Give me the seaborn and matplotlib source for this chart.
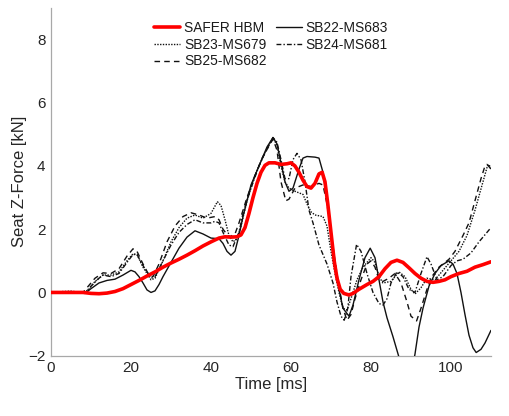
import numpy as np
import pandas as pd
import matplotlib
matplotlib.use("Agg")
import matplotlib.pyplot as plt
import seaborn as sns

# ---- data ----
hbm_t = [0, 8, 10, 12, 14, 16, 18, 20, 22, 24, 26, 28, 30, 32, 34, 36, 38, 40, 42, 43.5, 45, 46.5, 47.5,
         48.5, 49.5, 50.5, 51.5, 52.5, 53.5, 54.5, 56, 57.5, 59, 60, 61, 62, 63, 64, 65, 66, 67, 67.8,
         68.5, 69.2, 70, 70.8, 71.5, 72.3, 73.2, 74.5, 75.5, 77, 79, 80.5, 82, 83.5, 85, 86.5, 88, 89.5,
         91, 92.5, 94, 95.5, 97, 98.5, 100, 102, 104, 106, 108, 110]
hbm_f = [0, 0, -0.03, -0.04, -0.02, 0.03, 0.12, 0.25, 0.38, 0.52, 0.65, 0.8, 0.93, 1.05, 1.18, 1.32, 1.47,
         1.6, 1.72, 1.76, 1.75, 1.76, 1.82, 2.05, 2.5, 3.0, 3.45, 3.8, 4.02, 4.1, 4.1, 4.05, 4.07, 4.1, 4.0,
         3.8, 3.55, 3.35, 3.3, 3.45, 3.75, 3.8, 3.5, 2.8, 1.9, 1.0, 0.45, 0.1, -0.03, -0.08, -0.03, 0.1,
         0.25, 0.35, 0.5, 0.75, 0.95, 1.02, 0.95, 0.78, 0.6, 0.45, 0.35, 0.32, 0.35, 0.4, 0.5, 0.6, 0.67,
         0.8, 0.88, 0.97]

sb22_t = [0, 4, 7, 8.5, 10, 12, 14, 16, 18, 20, 21, 22, 23, 24, 25, 26, 27, 28, 30, 32, 34, 36, 38, 40, 42,
          43, 44, 45, 46, 47, 48, 50, 52, 54, 55.5, 56.5, 57.5, 58.5, 59.5, 60.5, 62, 63, 64, 66, 67, 68,
          69, 70, 71, 72, 73, 74.5, 75.5, 77, 78.5, 79.8, 81, 82, 83, 84, 85.5, 87, 88, 89, 90, 91, 92, 93,
          94.5, 96, 97.5, 99.5, 100.5, 101.5, 102.5, 103.5, 104.5, 105.5, 106.3, 107.5, 108.5, 110]
sb22_f = [0, 0, 0, -0.03, 0.12, 0.3, 0.38, 0.42, 0.55, 0.7, 0.65, 0.5, 0.3, 0.08, 0.0, 0.05, 0.25, 0.5,
          0.95, 1.4, 1.75, 1.95, 1.85, 1.72, 1.7, 1.55, 1.3, 1.18, 1.3, 1.8, 2.4, 3.4, 4.0, 4.6, 4.9, 4.7,
          4.1, 3.5, 3.2, 3.3, 3.9, 4.25, 4.3, 4.28, 4.25, 3.8, 2.9, 1.9, 0.9, 0.1, -0.5, -0.75, -0.4, 0.4,
          1.1, 1.4, 1.1, 0.4, -0.3, -0.8, -1.4, -2.05, -2.6, -2.9, -2.6, -1.95, -1.1, -0.5, 0.2, 0.6, 0.85,
          1.0, 0.9, 0.6, 0.0, -0.7, -1.35, -1.75, -1.9, -1.8, -1.6, -1.2]

sb23_t = [0, 3, 5, 6.5, 8, 9.5, 11, 13, 15, 17, 19, 20.5, 21.5, 23, 25, 26, 28, 30, 32, 34, 36, 38, 40,
          41.6, 42.5, 43.5, 44.5, 45.5, 46.5, 47.5, 49, 51, 53, 55.5, 56.5, 57.5, 58.5, 59.5, 61, 63, 64,
          65, 66, 68, 69, 70, 71, 72, 73, 74, 75, 76.5, 78, 80, 81, 82, 83, 85, 87, 88.5, 90, 91, 92.5,
          94, 96, 98, 100, 102, 104, 106, 108, 109, 109.5, 110]
sb23_f = [0, 0.03, 0.04, 0.02, -0.02, 0.1, 0.35, 0.55, 0.55, 0.65, 1.0, 1.22, 1.2, 0.8, 0.4, 0.45, 1.0,
          1.6, 2.05, 2.35, 2.45, 2.35, 2.5, 2.87, 2.75, 2.3, 1.8, 1.6, 1.7, 2.1, 2.9, 3.7, 4.3, 4.9, 4.65,
          4.0, 3.5, 3.3, 3.2, 3.1, 2.8, 2.55, 2.45, 2.4, 2.1, 1.3, 0.6, 0.0, -0.5, -0.55, -0.2, 0.4, 0.8,
          1.1, 0.95, 0.5, 0.3, 0.35, 0.65, 0.5, 0.1, -0.05, 0.15, 0.45, 0.4, 0.7, 1.0, 1.3, 1.8, 2.6, 3.5,
          3.95, 4.05, 3.9]

sb24_t = [0, 3, 5, 7, 8.5, 10, 12, 13, 15, 17, 19, 20.5, 21.5, 23, 25, 26, 28, 30, 32, 34, 36, 38, 40, 41,
          42, 43, 44.5, 45.5, 47, 48, 50, 52, 54, 55.5, 56.5, 57.5, 58.5, 59.5, 60.5, 61.5, 62.5, 63.5,
          64.5, 65.5, 67, 69, 70.5, 71.5, 72.5, 73.3, 74.2, 75, 76.4, 77.5, 79, 80.5, 82, 83, 84, 85, 86.5,
          88, 89.5, 91, 92.5, 94, 95, 96.5, 98, 100, 101.5, 103, 105, 107, 109, 110]
sb24_f = [0, 0.02, 0.03, 0.0, -0.02, 0.2, 0.45, 0.55, 0.5, 0.6, 0.95, 1.2, 1.2, 0.85, 0.45, 0.5, 1.0, 1.5,
          1.9, 2.15, 2.3, 2.2, 2.2, 2.25, 2.2, 1.9, 1.5, 1.45, 1.9, 2.5, 3.3, 4.0, 4.55, 4.9, 4.75, 4.2,
          3.6, 3.6, 4.2, 4.4, 4.2, 3.5, 2.6, 2.2, 1.5, 0.9, 0.3, -0.3, -0.75, -0.88, -0.5, 0.5, 1.52, 1.3,
          0.6, 0.0, -0.35, -0.4, -0.2, 0.3, 0.65, 0.5, 0.1, 0.0, 0.6, 1.13, 0.9, 0.4, 0.5, 0.85, 1.0, 1.05,
          1.25, 1.6, 1.9, 2.05]

sb25_t = [0, 7, 8, 9, 11, 13, 15, 17, 19, 20.5, 21.5, 23, 24.5, 25.5, 27, 29, 31, 33, 35, 37, 39, 41, 42,
          43, 44.5, 46, 47, 49, 51, 53, 55.5, 56.5, 57.5, 58.7, 59.5, 61, 63, 65, 67, 68, 69, 70, 71, 72,
          73, 74, 75, 76, 77.5, 79, 80, 81, 82, 83, 84.5, 86, 87.5, 89, 90, 91.4, 92.5, 94, 95.2, 97,
          99.5, 101, 103, 104.5, 106, 107.5, 108.5, 109, 109.7, 110]
sb25_f = [0, 0, 0.0, 0.15, 0.45, 0.62, 0.6, 0.75, 1.15, 1.38, 1.3, 0.9, 0.55, 0.5, 0.9, 1.6, 2.1, 2.4,
          2.52, 2.45, 2.35, 2.4, 2.3, 2.0, 1.75, 1.85, 2.2, 3.0, 3.7, 4.3, 4.85, 4.5, 3.5, 2.9, 2.95, 3.3,
          3.4, 3.35, 3.45, 3.4, 2.8, 1.9, 1.0, 0.2, -0.5, -0.88, -0.7, -0.2, 0.4, 0.9, 1.0, 0.8, 0.4, 0.35,
          0.45, 0.6, 0.3, -0.3, -0.75, -0.9, -0.5, 0.1, 0.5, 0.8, 1.05, 1.3, 1.8, 2.2, 2.9, 3.6, 4.0, 4.05,
          3.95, 3.9]

labels = ["SAFER HBM", "SB22-MS683", "SB23-MS679", "SB24-MS681", "SB25-MS682"]
x_ticks = [0, 20, 40, 60, 80, 100]
y_ticks = [-2, 0, 2, 4, 6, 8]

# ---- plot ----
sns.set_style("white")
plt.rcParams['font.family'] = ['Liberation Sans', 'DejaVu Sans']

fig = plt.figure(figsize=(5.10, 4.16), dpi=100)
ax = fig.add_axes([0.1, 0.145, 0.8627, 0.836])

series = [
    (hbm_t, hbm_f, labels[0], dict(color="#ff0000", linewidth=2.6, linestyle="-")),
    (sb22_t, sb22_f, labels[1], dict(color="#111111", linewidth=1.0, linestyle="-")),
    (sb23_t, sb23_f, labels[2], dict(color="#111111", linewidth=1.0, linestyle=(0, (1, 1)))),
    (sb24_t, sb24_f, labels[3], dict(color="#111111", linewidth=1.0, linestyle=(0, (3.5, 1.5, 1, 1.5)))),
    (sb25_t, sb25_f, labels[4], dict(color="#111111", linewidth=1.0, linestyle=(0, (4, 3)))),
]
handles = {}
order_z = [5, 3, 3, 3, 3]
for (t, f, lab, kw), z in zip(series, order_z):
    df = pd.DataFrame({"t": t, "f": f})
    sns.lineplot(data=df, x="t", y="f", ax=ax, label=lab, zorder=z, sort=False, **kw)
for h, l in zip(*ax.get_legend_handles_labels()):
    handles[l] = h

ax.set_xlim(0, 110)
ax.set_ylim(-2, 9)
ax.set_xticks(x_ticks)
ax.set_yticks(y_ticks)
ax.set_xlabel("Time [ms]", fontsize=12, color="#262626", labelpad=1)
ax.set_ylabel("Seat Z-Force [kN]", fontsize=12, color="#262626", labelpad=0.5)
ax.tick_params(axis="both", direction="in", length=3.5, width=0.8, colors="#a0a0a0",
               labelcolor="#262626", labelsize=11, pad=4)
for s in ["top", "right"]:
    ax.spines[s].set_visible(False)
for s in ["left", "bottom"]:
    ax.spines[s].set_color("#a8a8a8")
    ax.spines[s].set_linewidth(0.9)

leg_order = [labels[0], labels[2], labels[4], labels[1], labels[3]]
ax.legend([handles[l] for l in leg_order], leg_order, ncol=2, frameon=False,
          loc="upper center", bbox_to_anchor=(0.5, 0.998), fontsize=9.9,
          handlelength=1.9, handletextpad=0.3, columnspacing=0.65, labelspacing=0.2,
          labelcolor="#1a1a1a", borderpad=0.4)

fig.savefig("out.png", dpi=100)
